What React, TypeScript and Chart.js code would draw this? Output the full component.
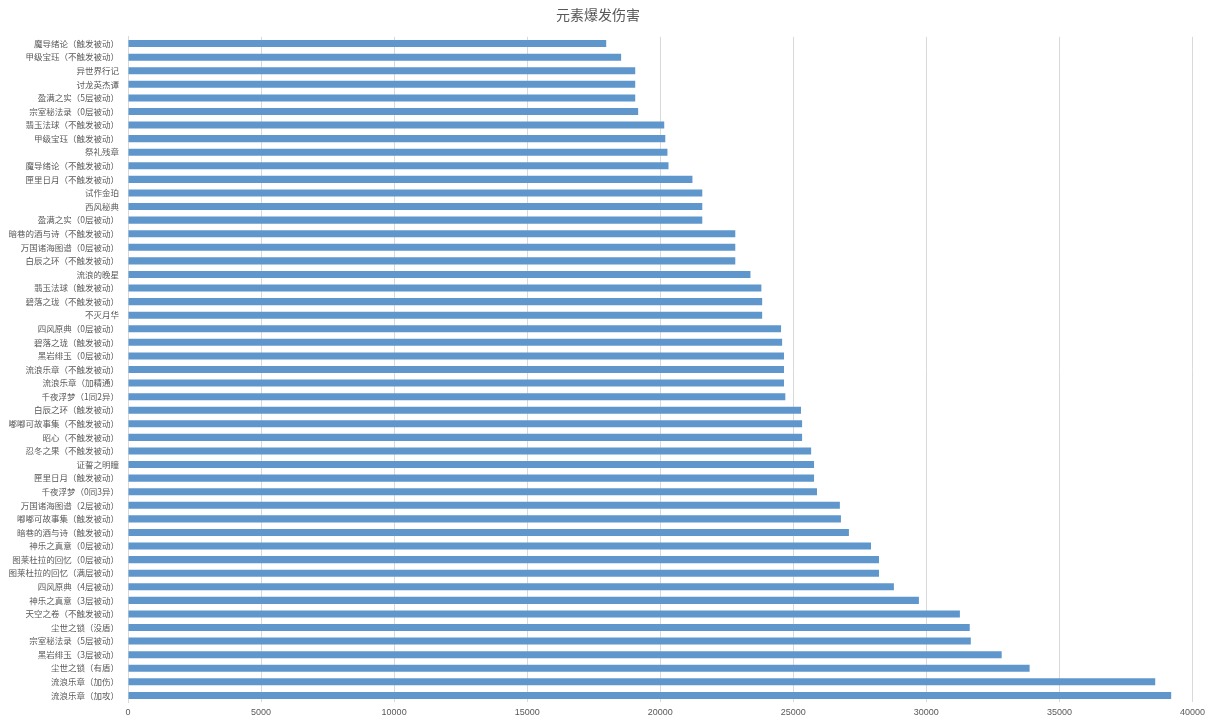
import React, { useEffect, useRef } from "react";
import { Chart, registerables } from "chart.js";

Chart.register(...registerables);

const chartTitle = "元素爆发伤害";

const categories: string[] = [
  "魔导绪论（触发被动）",
  "甲级宝珏（不触发被动）",
  "异世界行记",
  "讨龙英杰谭",
  "盈满之实（5层被动）",
  "宗室秘法录（0层被动）",
  "翡玉法球（不触发被动）",
  "甲级宝珏（触发被动）",
  "祭礼残章",
  "魔导绪论（不触发被动）",
  "匣里日月（不触发被动）",
  "试作金珀",
  "西风秘典",
  "盈满之实（0层被动）",
  "暗巷的酒与诗（不触发被动）",
  "万国诸海图谱（0层被动）",
  "白辰之环（不触发被动）",
  "流浪的晚星",
  "翡玉法球（触发被动）",
  "碧落之珑（不触发被动）",
  "不灭月华",
  "四风原典（0层被动）",
  "碧落之珑（触发被动）",
  "黑岩绯玉（0层被动）",
  "流浪乐章（不触发被动）",
  "流浪乐章（加精通）",
  "千夜浮梦（1同2异）",
  "白辰之环（触发被动）",
  "嘟嘟可故事集（不触发被动）",
  "昭心（不触发被动）",
  "忍冬之果（不触发被动）",
  "证誓之明瞳",
  "匣里日月（触发被动）",
  "千夜浮梦（0同3异）",
  "万国诸海图谱（2层被动）",
  "嘟嘟可故事集（触发被动）",
  "暗巷的酒与诗（触发被动）",
  "神乐之真意（0层被动）",
  "图莱杜拉的回忆（0层被动）",
  "图莱杜拉的回忆（满层被动）",
  "四风原典（4层被动）",
  "神乐之真意（3层被动）",
  "天空之卷（不触发被动）",
  "尘世之锁（没盾）",
  "宗室秘法录（5层被动）",
  "黑岩绯玉（3层被动）",
  "尘世之锁（有盾）",
  "流浪乐章（加伤）",
  "流浪乐章（加攻）",
];

const burstDamage: number[] = [
  17970, 18530, 19060, 19060, 19060, 19170, 20150, 20190, 20270, 20310,
  21210, 21580, 21580, 21580, 22820, 22820, 22820, 23390, 23800, 23830,
  23830, 24540, 24580, 24650, 24650, 24650, 24700, 25290, 25330, 25330,
  25670, 25780, 25780, 25890, 26750, 26790, 27090, 27920, 28220, 28220,
  28780, 29720, 31260, 31630, 31670, 32830, 33880, 38600, 39200,
];

const xMin = 0;
const xMax = 40000;
const xStep = 5000;

export default function App() {
  const canvasRef = useRef<HTMLCanvasElement | null>(null);

  useEffect(() => {
    if (!canvasRef.current) return;
    const chart = new Chart(canvasRef.current, {
      type: "bar",
      data: {
        labels: categories,
        datasets: [
          {
            label: chartTitle,
            data: burstDamage,
            backgroundColor: "#5f97cc",
            borderWidth: 0,
            barPercentage: 0.52,
            categoryPercentage: 1,
          },
        ],
      },
      options: {
        indexAxis: "y",
        animation: false,
        responsive: false,
        maintainAspectRatio: false,
        layout: { padding: { left: 0, right: 14, top: 0, bottom: 1 } },
        plugins: {
          legend: { display: false },
          tooltip: { enabled: false },
          title: {
            display: true,
            text: chartTitle,
            color: "#595959",
            font: { family: "'Noto Sans CJK SC', sans-serif", size: 14, weight: "normal" },
            padding: { top: 6, bottom: 14 },
          },
        },
        scales: {
          x: {
            min: xMin,
            max: xMax,
            ticks: {
              stepSize: xStep,
              color: "#595959",
              font: { family: "'Liberation Sans', sans-serif", size: 9 },
              padding: 5,
              callback: (v: any) => String(v),
            },
            grid: { color: "#d9d9d9", drawTicks: false },
            border: { display: false },
          },
          y: {
            ticks: {
              autoSkip: false,
              color: "#595959",
              font: { family: "'Noto Sans CJK SC', sans-serif", size: 8.5 },
              padding: 9,
            },
            grid: { display: false, drawTicks: false },
            border: { display: true, color: "#d9d9d9" },
            afterFit: (scale: any) => {
              scale.width = 128;
            },
          },
        },
      },
    });
    return () => chart.destroy();
  }, []);

  return (
    <div style={{ position: "absolute", left: 0, top: 0, width: 1210, height: 724, background: "#fff" }}>
      <canvas ref={canvasRef} width={1210} height={724} />
    </div>
  );
}
